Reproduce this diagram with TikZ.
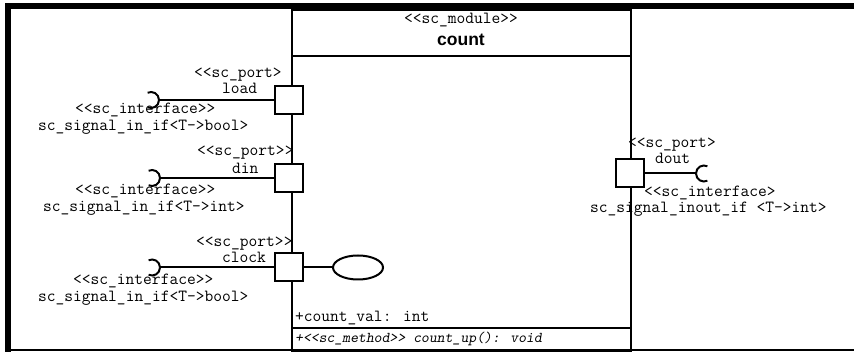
\documentclass[tikz,border=0pt]{standalone}
\usepackage{fontspec}
\newfontfamily\monofnt{Latin Modern Mono}
\newfontfamily\monoit{Latin Modern Mono Slanted}
\newfontfamily\sansfnt{Liberation Sans}
\usetikzlibrary{shapes.geometric}
\begin{document}
\begin{tikzpicture}[x=1pt,y=-1pt,
  lbl/.style={inner sep=0, font=\monofnt\fontsize{17}{19}\selectfont},
  lblsm/.style={inner sep=0, font=\monoit\fontsize{15}{17}\selectfont},
  portbox/.style={draw, line width=2, minimum size=28, inner sep=0, fill=white},
  conn/.style={line width=2},
  sock/.style={line width=2}]
\useasboundingbox (0,0) rectangle (854,352);
% outer frame
\draw[line width=6] (8,352) -- (8,6) -- (854,6);
\draw[line width=2.5] (5,350) -- (854,350);
% module
\node[draw, line width=2, minimum width=339, minimum height=341, inner sep=0, anchor=north west] (module) at (291,9) {};
\draw[line width=2] (module.west |- 0,56) -- (module.east |- 0,56);
\draw[line width=2] (module.west |- 0,328) -- (module.east |- 0,328);
\node[lbl, anchor=base] (stereo) at (461,24) {<<sc\_module>>};
\node[inner sep=0, anchor=base, font=\sansfnt\bfseries\fontsize{17.5}{20}\selectfont] (title) at (461,46) {count};
\node[lbl, anchor=base west] (attr) at (295,322) {+count\_val: int};
\node[lblsm, anchor=base west] (meth) at (295,343) {+<<sc\_method>> count\_up(): void};
% ports
\node[portbox] (pload) at (289,100) {};
\node[portbox] (pdin) at (289,178) {};
\node[portbox] (pclock) at (289,267.5) {};
\node[portbox] (pdout) at (629.5,173.5) {};
% sockets
\coordinate (sload) at (159,100);
\coordinate (sdin) at (160,178);
\coordinate (sclock) at (160,267.5);
\coordinate (sdout) at (696,173.5);
\draw[conn] (pload.west) -- (sload);
\draw[conn] (pdin.west) -- (sdin);
\draw[conn] (pclock.west) -- (sclock);
\draw[conn] (pdout.east) -- (sdout);
\draw[sock] (sload) arc[start angle=0, end angle=115, radius=8];
\draw[sock] (sload) arc[start angle=0, end angle=-115, radius=8];
\draw[sock] (sdin) arc[start angle=0, end angle=115, radius=8];
\draw[sock] (sdin) arc[start angle=0, end angle=-115, radius=8];
\draw[sock] (sclock) arc[start angle=0, end angle=115, radius=8];
\draw[sock] (sclock) arc[start angle=0, end angle=-115, radius=8];
\draw[sock] (sdout) arc[start angle=180, end angle=65, radius=8];
\draw[sock] (sdout) arc[start angle=180, end angle=295, radius=8];
% event ellipse
\node[draw, ellipse, line width=2, minimum width=50, minimum height=24, inner sep=0] (evt) at (358,267.5) {};
\draw[conn] (pclock.east) -- (evt.west);
% labels load
\node[lbl, anchor=base west] (lpl) at (194,78) {<<sc\_port>};
\node[lbl, anchor=base west] (lln) at (222,94) {load};
\node[lbl, anchor=base west] (lli) at (75,114) {<<sc\_interface>>};
\node[lbl, anchor=base west] (llt) at (38,131) {sc\_signal\_in\_if<T->bool>};
% labels din
\node[lbl, anchor=base west] (ldp) at (197,156) {<<sc\_port>>};
\node[lbl, anchor=base west] (ldn) at (232,174) {din};
\node[lbl, anchor=base west] (ldi) at (75,195) {<<sc\_interface>>};
\node[lbl, anchor=base west] (ldt) at (43,212) {sc\_signal\_in\_if<T->int>};
% labels clock
\node[lbl, anchor=base west] (lcp) at (196,247) {<<sc\_port>>};
\node[lbl, anchor=base west] (lcn) at (222,263) {clock};
\node[lbl, anchor=base west] (lci) at (73,285) {<<sc\_interface>>};
\node[lbl, anchor=base west] (lct) at (38,302) {sc\_signal\_in\_if<T->bool>};
% labels dout
\node[lbl, anchor=base west] (lop) at (628,148) {<<sc\_port>};
\node[lbl, anchor=base west] (lon) at (655,164) {dout};
\node[lbl, anchor=base west] (loi) at (644,197) {<<sc\_interface>};
\node[lbl, anchor=base west] (lot) at (590,213) {sc\_signal\_inout\_if <T->int>};
\end{tikzpicture}
\end{document}
